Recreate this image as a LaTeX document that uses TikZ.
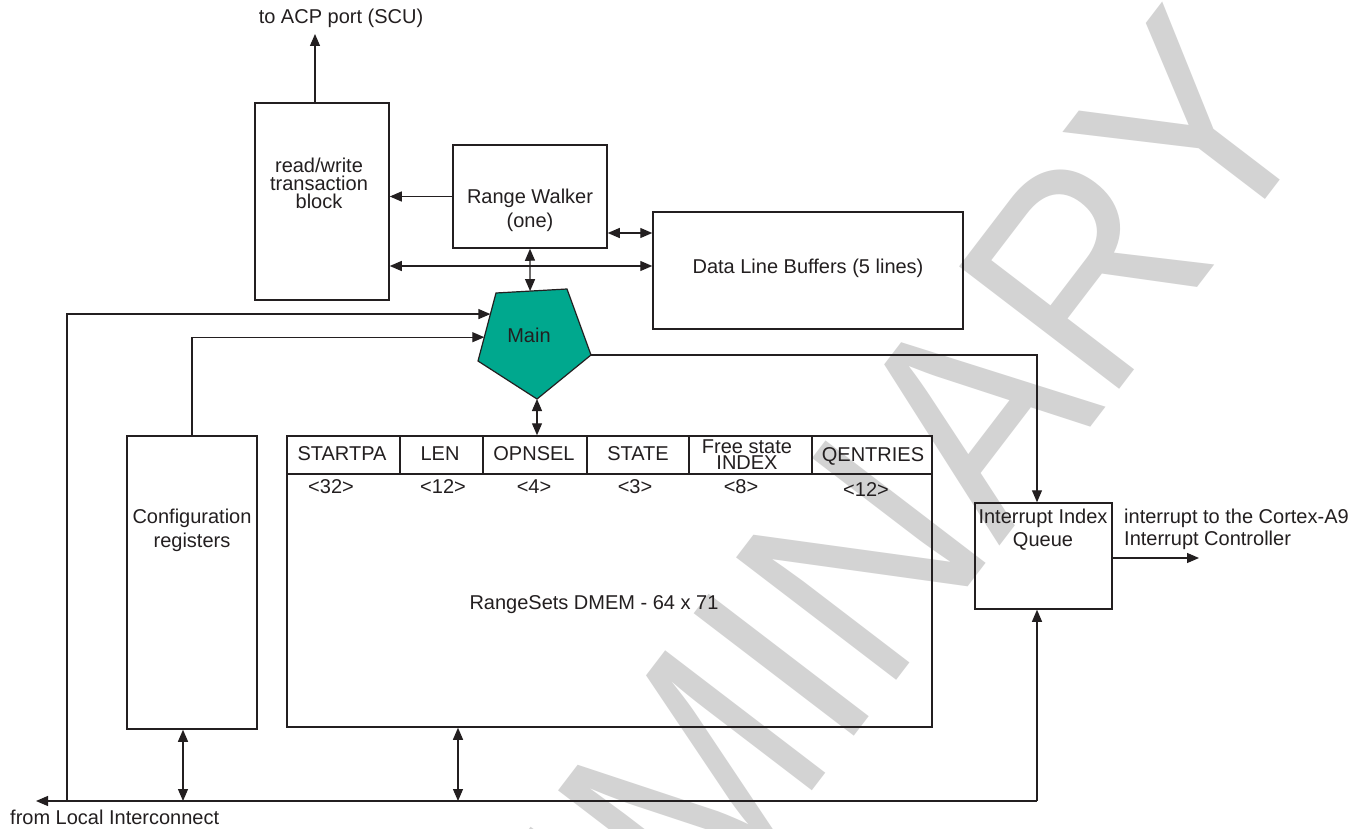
\documentclass[tikz,border=0pt]{standalone}
\usepackage{fontspec}
\setmainfont{Liberation Sans}
\usetikzlibrary{arrows.meta,calc}
\definecolor{ink}{RGB}{35,31,32}
\definecolor{maingreen}{RGB}{0,168,142}
\definecolor{wmgray}{RGB}{211,211,211}
\begin{document}
\begin{tikzpicture}[x=1pt,y=-1pt,
  box/.style={draw=ink, line width=1.5pt, inner sep=0pt},
  conn/.style={draw=ink, line width=1.2pt},
  tip/.tip={Triangle[length=12pt,width=10pt]},
  arr/.style={conn, -tip},
  darr/.style={conn, tip-tip},
  lbl/.style={inner sep=0pt, text=ink, font=\fontsize{20}{24}\selectfont, align=center},
]
\fill[white] (0,0) rectangle (1359,829);
\path[use as bounding box] (0,0) rectangle (1359,829);

% watermark
\begin{scope}
\clip (0,0) rectangle (1359,829);
\node[rotate=52.6, anchor=base west, inner sep=0pt, text=wmgray,
      font=\fontsize{293}{293}\selectfont] (wmark) at (243,1536)
      {\scalebox{0.9}[1]{PRELIMINARY}};
\end{scope}

% boxes
\node[box, minimum width=134pt, minimum height=197pt] (rwb) at (322,201.5) {};
\node[lbl, font=\fontsize{20}{18}\selectfont] (rwbt) at (319,183) {read/write\\transaction\\block};

\node[box, minimum width=154pt, minimum height=103pt] (rwalk) at (530,196.5) {};
\node[lbl] (rwalkt) at (530,210) {Range Walker\\(one)};

\node[box, minimum width=310pt, minimum height=117pt] (dlb) at (808,270.5) {};
\node[lbl] (dlbt) at (808,268) {Data Line Buffers (5 lines)};

\node[box, minimum width=130pt, minimum height=293pt] (cfg) at (192,582.5) {};
\node[lbl] (cfgt) at (192,530) {Configuration\\registers};

\node[box, minimum width=645pt, minimum height=291pt] (rs) at (609.5,581.5) {};
\draw[box] (rs.west |- 0,474) -- (rs.east |- 0,474);
\foreach \xx in {400,483,587,689,812}
  \draw[box] (\xx,436) -- (\xx,474);
\node[lbl] (h1) at (342,454) {STARTPA};
\node[lbl] (h2) at (440,454) {LEN};
\node[lbl] (h3) at (534,454) {OPNSEL};
\node[lbl] (h4) at (638,454) {STATE};
\node[lbl, font=\fontsize{20}{16}\selectfont] (h5) at (747,455) {Free state\\INDEX};
\node[lbl] (h6) at (873,456) {QENTRIES};
\node[lbl] (s1) at (331,487) {<32>};
\node[lbl] (s2) at (443,487) {<12>};
\node[lbl] (s3) at (534,487) {<4>};
\node[lbl] (s4) at (635,487) {<3>};
\node[lbl] (s5) at (741,487) {<8>};
\node[lbl] (s6) at (866,490) {<12>};
\node[lbl] (rst) at (594,605) {RangeSets DMEM - 64 x 71};

\node[box, minimum width=137pt, minimum height=106pt] (irq) at (1043.5,556) {};
\node[lbl, font=\fontsize{20}{23}\selectfont] (irqt) at (1043,530) {Interrupt Index\\Queue};
\node[lbl, align=left, anchor=west, font=\fontsize{20}{22}\selectfont] (irqlbl) at (1124,529) {interrupt to the Cortex-A9\\Interrupt Controller};

% Main pentagon
\coordinate (mTL) at (496,293);
\coordinate (mTR) at (567,289);
\coordinate (mR) at (591,355);
\coordinate (mB) at (537,399);
\coordinate (mL) at (478,361);
\draw[draw=ink, fill=maingreen, line width=1.2pt] (mTL) -- (mTR) -- (mR) -- (mB) -- (mL) -- cycle;
\node[lbl] (main) at (529,335) {Main};

% external labels and coordinates
\coordinate (acp) at (315,34);
\node[lbl] (acpt) at (341,18) {to ACP port (SCU)};
\coordinate (busR) at (1037,801);
\coordinate (busL) at (67,801);
\coordinate (busEnd) at (36,801);
\coordinate (cfgb) at (183,801);
\coordinate (rsb) at (458,801);
\coordinate (irqout) at (1199,558);
\node[lbl, anchor=west] (lit) at (10,817) {from Local Interconnect};

% connectors
\draw[arr] (acp |- rwb.north) -- (acp);
\draw[arr] (rwalk.west) -- (rwalk.west -| rwb.east);
\draw[darr] (rwalk.east |- 0,233) -- (dlb.west |- 0,233);
\draw[darr] (rwb.east |- 0,266) -- (dlb.west |- 0,266);
\draw[darr] (rwalk.south) -- ($(mTL)!0.48!(mTR)$);
\draw[darr] (mB) -- (mB |- rs.north);
\draw[arr] (busL) |- ($(mTL)!0.31!(mL)$);
\draw[arr] (cfg.north) |- ($(mTL)!0.65!(mL)$);
\draw[arr] (mR) -| (irq.north -| busR);
\draw[arr] (busR) -- (irq.south -| busR);
\draw[arr] (busR) -- (busEnd);
\draw[darr] (cfgb |- cfg.south) -- (cfgb);
\draw[darr] (rsb |- rs.south) -- (rsb);
\draw[arr] (irq.east |- irqout) -- (irqout);
\end{tikzpicture}
\end{document}
